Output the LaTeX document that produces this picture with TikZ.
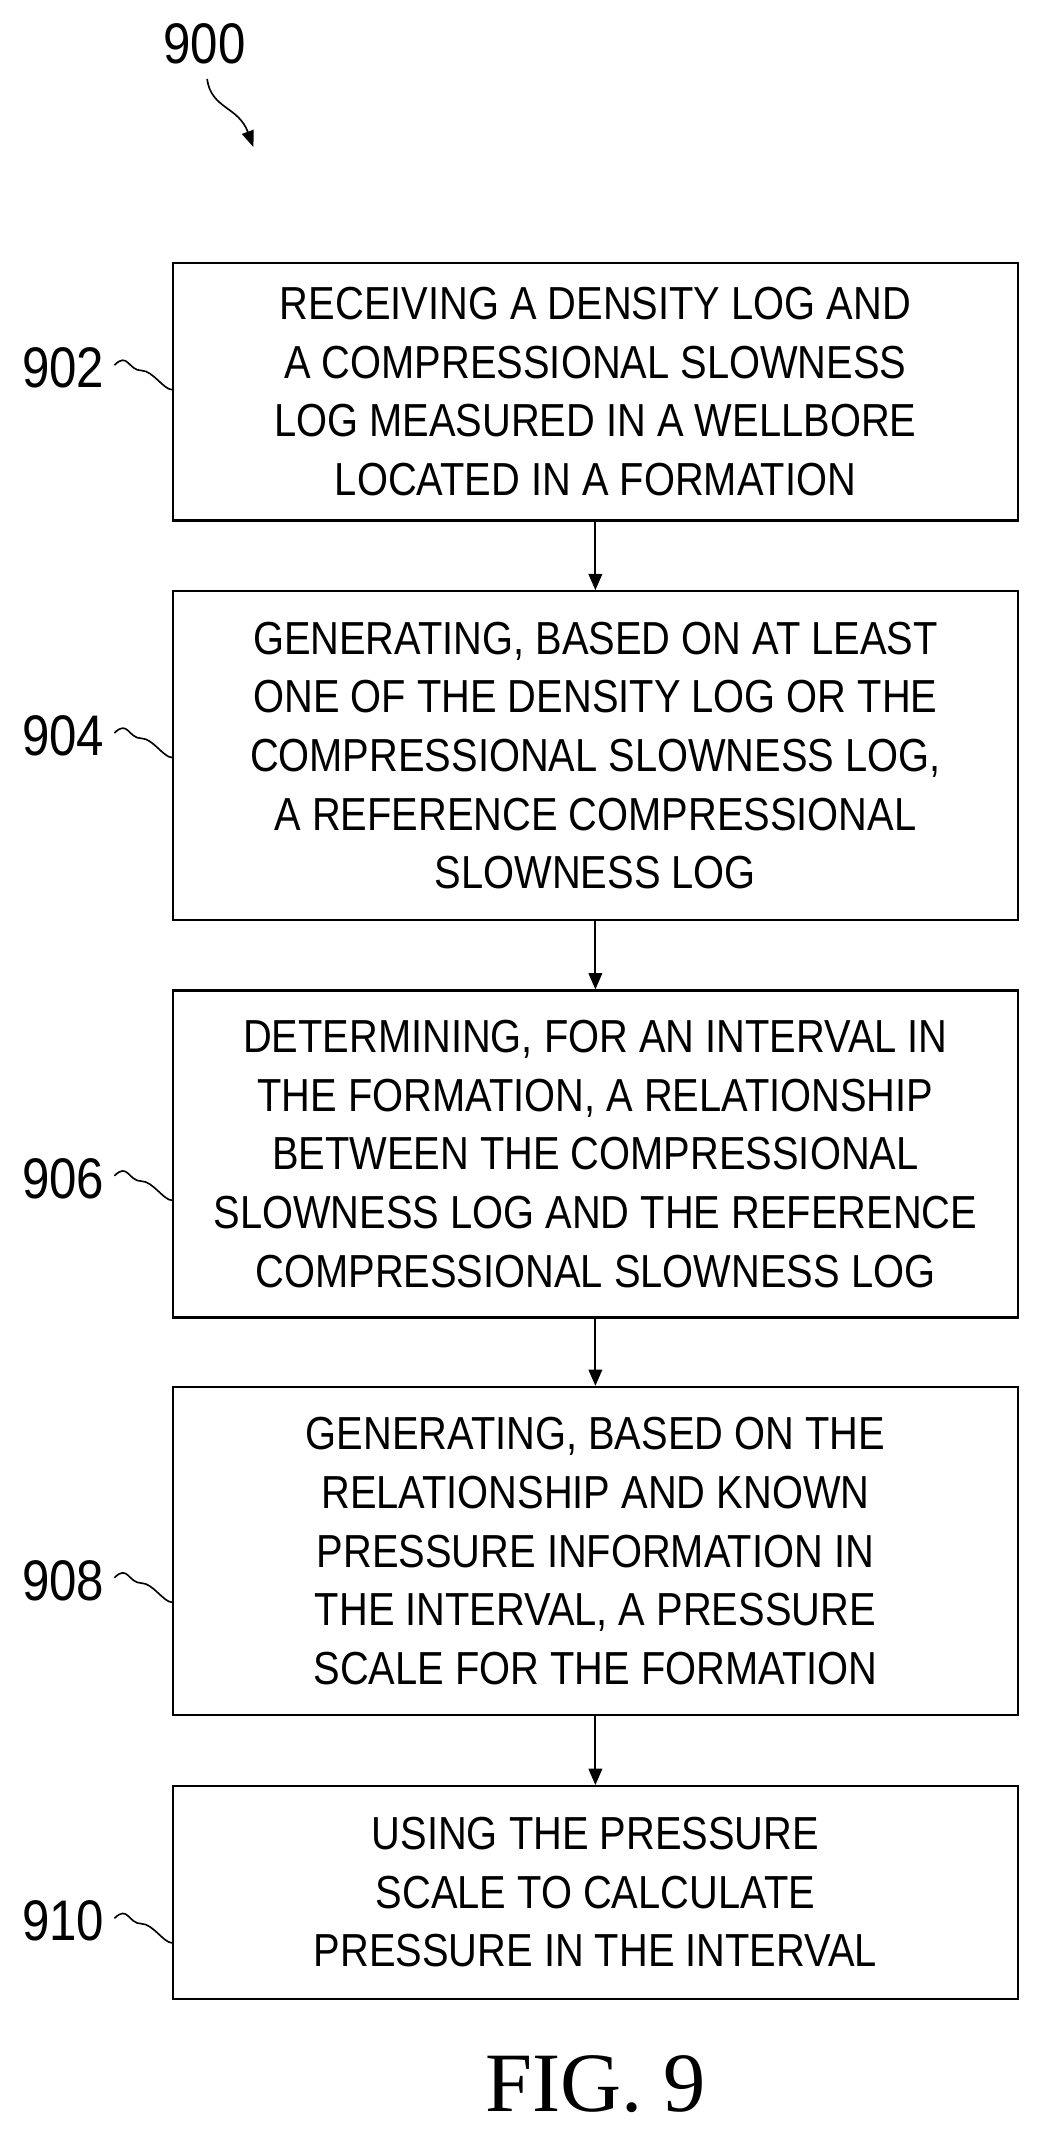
\documentclass[tikz,border=0pt]{standalone}
\usepackage{fontspec}
\setmainfont{Liberation Sans}[FakeStretch=0.86]
\newfontfamily\figfont{Liberation Serif}
\usetikzlibrary{arrows.meta}
\begin{document}
\begin{tikzpicture}[x=1pt,y=-1pt,
  stepbox/.style={draw,line width=1.6pt,minimum width=620pt,align=center,font=\fontsize{34}{43}\selectfont,inner sep=0pt},
  lab/.style={font=\fontsize{42}{44}\selectfont,anchor=east},
  arr/.style={-{Triangle[length=12pt,width=10pt]},line width=1.4pt},
  sq/.style={line width=1.2pt}]
\useasboundingbox (0,0) rectangle (770,1581);
\node[stepbox,minimum height=189pt] (b1) at (437,287.5) {RECEIVING A DENSITY LOG AND\\A COMPRESSIONAL SLOWNESS\\LOG MEASURED IN A WELLBORE\\LOCATED IN A FORMATION};
\node[stepbox,minimum height=241pt] (b2) at (437,554.5) {GENERATING, BASED ON AT LEAST\\ONE OF THE DENSITY LOG OR THE\\COMPRESSIONAL SLOWNESS LOG,\\A REFERENCE COMPRESSIONAL\\SLOWNESS LOG};
\node[stepbox,minimum height=240pt] (b3) at (437,847) {DETERMINING, FOR AN INTERVAL IN\\THE FORMATION, A RELATIONSHIP\\BETWEEN THE COMPRESSIONAL\\SLOWNESS LOG AND THE REFERENCE\\COMPRESSIONAL SLOWNESS LOG};
\node[stepbox,minimum height=241pt] (b4) at (437,1138.5) {GENERATING, BASED ON THE\\RELATIONSHIP AND KNOWN\\PRESSURE INFORMATION IN\\THE INTERVAL, A PRESSURE\\SCALE FOR THE FORMATION};
\node[stepbox,minimum height=156pt] (b5) at (437,1389) {USING THE PRESSURE\\SCALE TO CALCULATE\\PRESSURE IN THE INTERVAL};
\foreach \a/\b in {b1/b2,b2/b3,b3/b4,b4/b5} \draw[arr] (\a.south) -- (\b.north);
\foreach \b/\n/\y in {b1/902/270,b2/904/540,b3/906/865,b4/908/1160,b5/910/1410}{
  \node[lab] (l\n) at (80,\y) {\n};
  \draw[sq] (l\n.east) ++(4,-2) .. controls +(10,-10) and +(-10,0) .. ++(20,4) .. controls +(8,0) and +(-6,0) .. (\b.west |- 0,\y+16);
}
\node[font=\fontsize{42}{44}\selectfont] (t900) at (150,32) {900};
\coordinate (e900) at (186,108);
\draw[sq,-{Triangle[length=12pt,width=9pt]}] (152,58) .. controls (155,80) and (175,78) .. (e900);
\node[font=\figfont\fontsize{62}{66}\selectfont] (fig) at (437,1530) {FIG. 9};
\end{tikzpicture}
\end{document}
